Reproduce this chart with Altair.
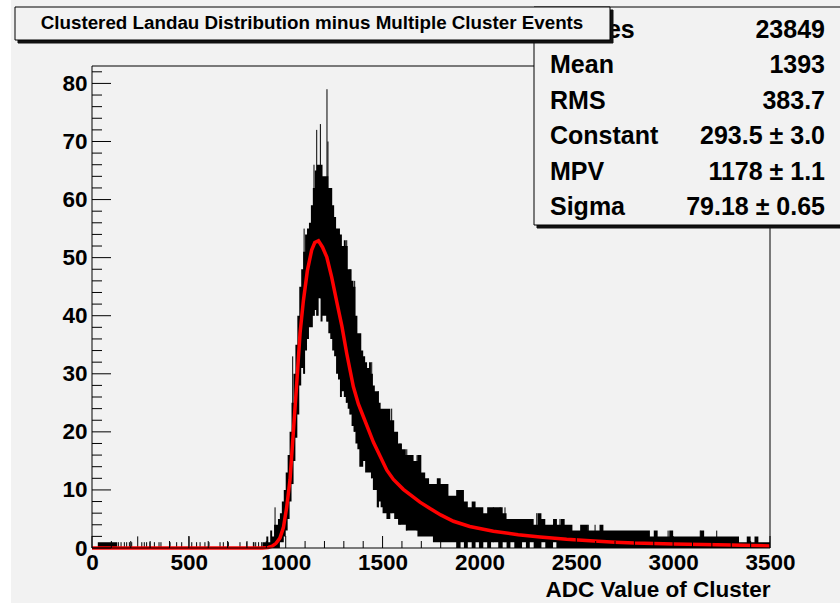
import altair as alt
import pandas as pd

# ---------------- data ----------------
title_text = "Clustered Landau Distribution minus Multiple Cluster Events"
x_title = "ADC Value of Cluster"
x_tick_values = [0, 500, 1000, 1500, 2000, 2500, 3000, 3500]
y_tick_values = [0, 10, 20, 30, 40, 50, 60, 70, 80]
x_minor_values = [v for v in range(0, 3501, 100) if v % 500]
y_minor_values = [v for v in range(0, 83, 2) if v % 10]

stats_labels = ["Entries", "Mean", "RMS", "Constant", "MPV", "Sigma"]
stats_values = ["23849", "1393", "383.7", "293.5 \u00b1 3.0", "1178 \u00b1 1.1", "79.18 \u00b1 0.65"]

# histogram envelope (column start, low, high)
pre_start = [0, 30, 130]
pre_lo = [0, 0, 0]
pre_hi = [0, 1, 0]

core_start = list(range(880, 1500, 10))
core_lo = [0, 0, 0, 0, 0, 0, 0, 0, 0, 1,
           1, 2, 3, 5, 8, 11, 15, 19, 23, 28,
           31, 30, 34, 36, 38, 38, 40, 41, 40, 43,
           39, 40, 40, 39, 37, 36, 34, 33, 30, 29,
           26, 27, 26, 25, 24, 23, 21, 20, 18, 17,
           14, 14, 15, 13, 13, 13, 12, 10, 10, 7,
           8, 7]
core_hi = [1, 1, 2, 1, 3, 2, 4, 4, 5, 6,
           8, 10, 13, 16, 20, 25, 30, 35, 40, 45,
           48, 51, 54, 55, 56, 59, 62, 65, 66, 66,
           66, 64, 64, 64, 62, 62, 59, 57, 55, 55,
           54, 52, 53, 52, 48, 48, 46, 45, 40, 37,
           37, 34, 33, 32, 31, 32, 30, 28, 27, 27,
           25, 24]

tail_start = list(range(1500, 3500, 20))
tail_hi = [24, 24, 22, 20, 18, 17, 16, 16, 15, 16,
           13, 12, 11, 11, 12, 11, 11, 9, 9, 10,
           10, 8, 7, 8, 7, 7, 6, 7, 7, 7,
           7, 6, 5, 5, 5, 5, 5, 5, 5, 4,
           6, 5, 4, 4, 5, 4, 5, 4, 4, 3,
           3, 4, 4, 3, 3, 3, 4, 3, 3, 3,
           3, 3, 3, 3, 3, 3, 3, 3, 3, 2,
           3, 2, 2, 2, 3, 2, 2, 2, 2, 2,
           2, 2, 3, 2, 2, 2, 2, 2, 2, 2,
           2, 2, 1, 1, 2, 1, 2, 1, 1, 1]
tail_lo = [6, 5, 6, 5, 4, 4, 3, 3, 3, 2,
           2, 2, 2, 1, 1, 1, 1, 1, 1, 0,
           1, 0, 1, 0, 1, 0, 1, 0, 1, 1,
           0, 1, 0, 1, 0, 0, 1, 0, 1, 0,
           0, 1, 0, 0, 1, 0, 0, 0, 0, 0,
           0, 0, 0, 0, 0, 0, 0, 0, 0, 0,
           0, 0, 0, 0, 0, 0, 0, 0, 0, 0,
           0, 0, 0, 0, 0, 0, 0, 0, 0, 0,
           0, 0, 0, 0, 0, 0, 0, 0, 0, 0,
           0, 0, 0, 0, 0, 0, 0, 0, 0, 0]

# single-bin spikes (ADC, count)
spike_x = [136, 150, 167, 179, 193, 205, 236, 257, 270, 282, 299, 322, 346, 356,
           403, 437, 463, 501, 515, 540, 558, 583, 604, 661, 678, 704, 764, 799,
           833, 836, 845, 860, 876,
           945, 1036, 1095, 1146, 1160, 1179, 1213, 1218, 1315, 1332, 1356,
           1444, 1478, 1547, 1590, 1625, 1678, 2072, 2107, 2132, 2296, 2416,
           2562, 2597, 2974, 3140, 3225]
spike_v = [1, 1, 1, 1, 1, 1, 2, 1, 1, 1, 1, 1, 1, 1,
           1, 1, 1, 2, 1, 1, 1, 1, 1, 1, 1, 1, 1, 1,
           1, 1, 1, 1, 1,
           7, 33, 55, 66, 72, 73, 79, 70, 53, 48, 46,
           32, 27, 24, 18, 17, 16, 7, 7, 7, 6, 5,
           4, 4, 3, 3, 3]

# Landau fit curve
fit_x = [0, 880, 910, 930, 950, 970, 988, 1005, 1022, 1039, 1057, 1074, 1091,
         1112, 1134, 1150, 1169, 1190, 1212, 1237, 1266, 1290, 1315, 1349, 1375,
         1401, 1453, 1522, 1556, 1607, 1693, 1745, 1800, 1866, 1950, 2072, 2200,
         2313, 2450, 2571, 2700, 2800, 3000, 3300, 3500]
fit_y = [0, 0, 0.1, 0.3, 0.8, 1.7, 3.5, 7, 11.7, 19.8, 28.4, 37, 42.5,
         47.8, 51.3, 52.6, 52.9, 51.8, 50.1, 46.7, 42, 38.2, 33.5, 27.8, 24.8,
         22.6, 18.2, 13.4, 11.8, 10.1, 7.9, 6.8, 5.7, 4.6, 3.7, 2.9, 2.3,
         1.9, 1.5, 1.25, 1.0, 0.85, 0.7, 0.5, 0.35]

assert len(core_start) == len(core_lo) == len(core_hi)
assert len(tail_start) == len(tail_lo) == len(tail_hi)
assert len(spike_x) == len(spike_v)
assert len(fit_x) == len(fit_y)

# ---------------- tables ----------------
hx = pre_start + core_start + tail_start + [3500]
hlo = pre_lo + core_lo + tail_lo + [tail_lo[-1]]
hhi = pre_hi + core_hi + tail_hi + [tail_hi[-1]]
hist_df = pd.DataFrame({"x": hx, "lo": hlo, "hi": hhi})


def column_low(x):
    base = 0
    for s, lo in zip(hx, hlo):
        if s <= x:
            base = lo
    return base


spike_df = pd.DataFrame({"x": spike_x, "v": spike_v,
                         "b": [column_low(x) for x in spike_x]})
fit_df = pd.DataFrame({"x": fit_x, "y": fit_y})

W, H = 678, 482
FONT = "Liberation Sans"
xs = alt.Scale(domain=[0, 3500], nice=False, zero=False)
ys = alt.Scale(domain=[0, 83], nice=False, zero=False)
one = alt.Data(values=[{"a": 1}])

x_axis = alt.Axis(values=x_tick_values, format="d", ticks=False, tickSize=0, domain=False,
                  grid=False, labelFont=FONT, labelFontSize=22.5, labelFontWeight="bold",
                  labelColor="black", labelPadding=3, labelFlush=False, labelOverlap=False,
                  title=x_title, titleFont=FONT, titleFontSize=22.5, titleFontWeight="bold",
                  titleColor="black", titleX=W, titleY=48, titleAlign="right",
                  titleBaseline="alphabetic")
y_axis = alt.Axis(values=y_tick_values, format="d", ticks=False, tickSize=0, domain=False,
                  grid=False, labelFont=FONT, labelFontSize=22.5, labelFontWeight="bold",
                  labelColor="black", labelPadding=5, labelOverlap=False, title="")


def X(field):
    return alt.X(field, scale=xs, axis=x_axis)


def Y(field):
    return alt.Y(field, scale=ys, axis=y_axis)


def box(x1, x2, y1, y2, fill, stroke="black", sw=1.0):
    return alt.Chart(one).mark_rect(fill=fill, stroke=stroke, strokeWidth=sw).encode(
        x=alt.value(x1), x2=alt.value(x2), y=alt.value(y1), y2=alt.value(y2))


layers = []
# left white margin of the canvas
layers.append(alt.Chart(one).mark_rect(fill="white").encode(
    x=alt.value(-92), x2=alt.value(-81), y=alt.value(-66), y2=alt.value(H + 55)))

hist = alt.Chart(hist_df).mark_area(interpolate="step-after", color="black").encode(
    x=X("x:Q"), y=Y("hi:Q"), y2="lo:Q")
layers.append(hist)

spikes = alt.Chart(spike_df).mark_rule(color="black", strokeWidth=1).encode(
    x=X("x:Q"), y=Y("b:Q"), y2="v:Q")
layers.append(spikes)

fit = alt.Chart(fit_df).mark_line(color="#ff0000", strokeWidth=3.5).encode(
    x=X("x:Q"), y=Y("y:Q"))
layers.append(fit)

# frame
for enc in [dict(x=alt.value(0), x2=alt.value(W), y=alt.value(0)),
            dict(x=alt.value(0), x2=alt.value(W), y=alt.value(H)),
            dict(x=alt.value(0), y=alt.value(0), y2=alt.value(H)),
            dict(x=alt.value(W), y=alt.value(0), y2=alt.value(H))]:
    layers.append(alt.Chart(one).mark_rule(color="black", strokeWidth=1).encode(**enc))


# inside ticks
def yticks(vals, length):
    return alt.Chart(pd.DataFrame({"v": vals})).mark_rule(color="black", strokeWidth=1).encode(
        y=Y("v:Q"), x=alt.value(0), x2=alt.value(length))


def xticks(vals, length):
    return alt.Chart(pd.DataFrame({"v": vals})).mark_rule(color="black", strokeWidth=1).encode(
        x=X("v:Q"), y=alt.value(H), y2=alt.value(H - length))


layers += [yticks(y_tick_values, 19), yticks(y_minor_values, 10),
           xticks(x_tick_values, 12), xticks(x_minor_values, 7)]

# statistics box
layers.append(box(445, 760, -56, 162, "#111111", stroke="#111111"))
layers.append(box(442, 760, -59, 159, "#f2f2f2"))
for i, (lab, val) in enumerate(zip(stats_labels, stats_values)):
    yy = -36 + i * 35.4
    layers.append(alt.Chart(one).mark_text(
        text=lab, font=FONT, fontSize=25, fontWeight="bold", color="black",
        align="left", baseline="middle").encode(x=alt.value(458), y=alt.value(yy)))
    layers.append(alt.Chart(one).mark_text(
        text=val, font=FONT, fontSize=25, fontWeight="bold", color="black",
        align="right", baseline="middle").encode(x=alt.value(733), y=alt.value(yy)))

# title box
layers.append(box(-74, 521, -56, -23, "#111111", stroke="#111111"))
layers.append(box(-77, 518, -59, -26, "#f2f2f2"))
layers.append(alt.Chart(one).mark_text(
    text=title_text, font=FONT, fontSize=18.8, fontWeight="bold", color="black",
    align="center", baseline="middle").encode(x=alt.value(220), y=alt.value(-43)))

chart = alt.layer(*layers).properties(
    width=W, height=H,
    padding={"left": 92, "top": 66, "right": 70, "bottom": 55},
    autosize=alt.AutoSizeParams(type="none"),
    background="#f2f2f2",
).configure_view(strokeWidth=0)

chart.save("out.html", embed_options={"renderer": "svg", "actions": False})
